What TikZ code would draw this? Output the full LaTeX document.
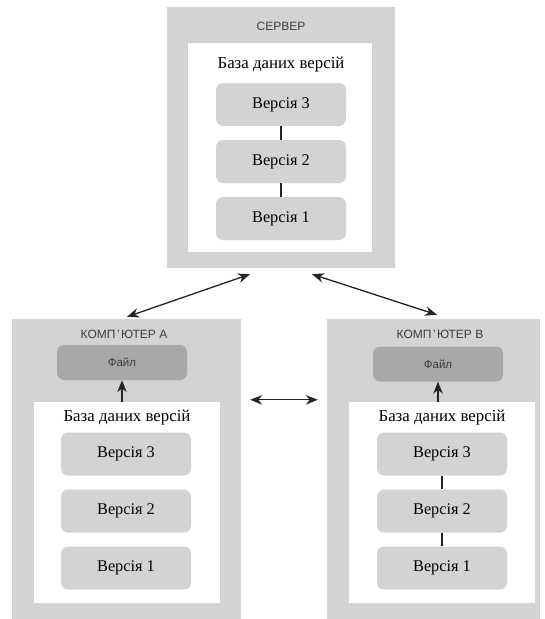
\documentclass[tikz,border=0pt]{standalone}
\usepackage{fontspec}
\setmainfont{Liberation Serif}
\setsansfont{Liberation Sans}
\usetikzlibrary{arrows.meta}
\usetikzlibrary{calc}
\definecolor{boxgray}{RGB}{211,211,213}
\definecolor{filegray}{RGB}{168,168,170}
\definecolor{headgray}{RGB}{60,60,62}
\definecolor{linedark}{RGB}{35,35,35}

\begin{document}
\begin{tikzpicture}[x=1pt, y=-1pt,
		outerbox/.style={fill=boxgray, inner sep=0},
		innerbox/.style={fill=white, inner sep=0},
		verbox/.style={fill=boxgray, rounded corners=7pt, minimum width=130pt, minimum height=43pt, font=\fontsize{16.3}{19}\selectfont},
		filebox/.style={fill=filegray, rounded corners=7pt, minimum width=130pt, minimum height=35pt, font=\sffamily\fontsize{11.5}{13}\selectfont, text=headgray},
		title/.style={font=\sffamily\fontsize{12}{14}\selectfont, text=headgray},
		dbtitle/.style={font=\fontsize{16.8}{19}\selectfont},
		link/.style={linedark, line width=1.3pt},
		arr/.style={linedark, line width=1.3pt, -{Stealth[length=12pt,width=9.5pt]}},
		darr/.style={linedark, line width=1.3pt, {Stealth[length=12pt,width=9.5pt]}-{Stealth[length=12pt,width=9.5pt]}}]
		\useasboundingbox (0,0) rectangle (544,619);
		
		% server
		\node[outerbox, minimum width=228pt, minimum height=261pt] (server) at (281,137.5) {};
		\node[innerbox, minimum width=184pt, minimum height=209pt] (dbS) at (280,147.5) {};
		\node[title] (titleS) at (281,26) {СЕРВЕР};
		\node[dbtitle] (labelS) at (281,65) {База даних версій};
		\node[verbox] (s3) at (281,104.5) {Версія 3};
		\node[verbox] (s2) at (281,161.5) {Версія 2};
		\node[verbox] (s1) at (281,218.5) {Версія 1};
		\draw[link] (s3) -- (s2);
		\draw[link] (s2) -- (s1);
		
		% computer A
		\node[outerbox, minimum width=229pt, minimum height=300pt] (compA) at (126.5,469) {};
		\node[title] (titleA) at (124,334) {КОМП\kern1.5pt'\kern1.5ptЮТЕР А};
		\node[filebox] (fileA) at (122,362.5) {Файл};
		\node[innerbox, minimum width=186pt, minimum height=201pt] (dbA) at (127,502.5) {};
		\node[dbtitle] (labelA) at (127,418) {База даних версій};
		\node[verbox] (a3) at (126,454) {Версія 3};
		\node[verbox] (a2) at (126,511) {Версія 2};
		\node[verbox] (a1) at (126,568) {Версія 1};
		\draw[arr] (fileA.south |- dbA.north) -- (fileA.south);
		
		% computer B
		\node[outerbox, minimum width=213pt, minimum height=300pt] (compB) at (433.5,469) {};
		\node[title] (titleB) at (440,334) {КОМП\kern1.5pt'\kern1.5ptЮТЕР В};
		\node[filebox] (fileB) at (438,364) {Файл};
		\node[innerbox, minimum width=186pt, minimum height=201pt] (dbB) at (442,502.5) {};
		\node[dbtitle] (labelB) at (442,418) {База даних версій};
		\node[verbox] (b3) at (442,454) {Версія 3};
		\node[verbox] (b2) at (442,511) {Версія 2};
		\node[verbox] (b1) at (442,568) {Версія 1};
		\draw[arr] (fileB.south |- dbB.north) -- (fileB.south);
		\draw[link] (b3) -- (b2);
		\draw[link] (b2) -- (b1);
		
		% exchange
		\draw[darr] ($(server.south)+(-31,6)$) -- ($(compA.north)+(0.5,-2)$);
		\draw[darr] ($(server.south)+(31,6)$) -- ($(compB.north)+(3.5,-4)$);
		\draw[darr] ($(compA.north east)+(9,81)$) -- ($(compB.north west)+(-9,81)$);
	\end{tikzpicture}
\end{document}
